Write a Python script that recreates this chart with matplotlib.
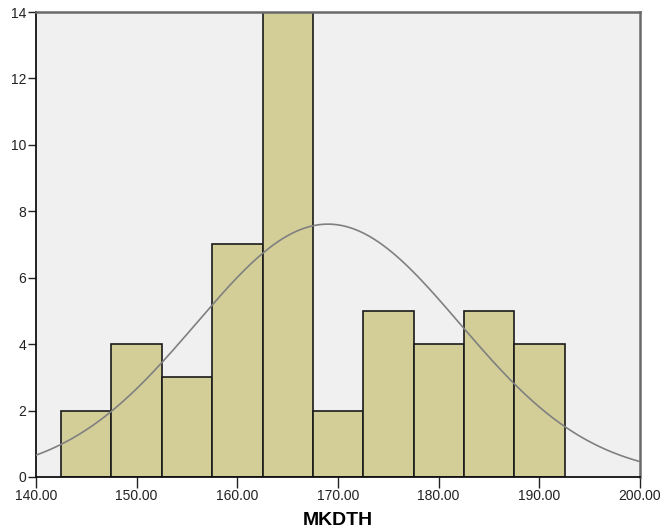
import numpy as np
import matplotlib.pyplot as plt

plt.rcParams['font.family'] = ['Liberation Sans', 'DejaVu Sans']

# histogram bins (width 5) and frequencies
bin_edges = [142.5, 147.5, 152.5, 157.5, 162.5, 167.5, 172.5, 177.5, 182.5, 187.5, 192.5]
counts = [2, 4, 3, 7, 14, 2, 5, 4, 5, 4]

# normal curve parameters
mean = 169.0
std_dev = 13.1
n_total = sum(counts)
bin_width = 5.0

x_ticks = [140, 150, 160, 170, 180, 190, 200]
x_labels = ['140.00', '150.00', '160.00', '170.00', '180.00', '190.00', '200.00']
y_ticks = [0, 2, 4, 6, 8, 10, 12, 14]

fig = plt.figure(figsize=(6.64, 5.31), dpi=100)
ax = fig.add_axes([0.0542, 0.1017, 0.9097, 0.8757])
ax.set_facecolor('#f0f0f0')

lefts = bin_edges[:-1]
widths = np.diff(bin_edges)
ax.bar(lefts, counts, width=widths, align='edge', color='#d3ce98',
       edgecolor='#1a1a1a', linewidth=1.2, zorder=2)

xs = np.linspace(140, 200, 400)
ys = n_total * bin_width / (std_dev * np.sqrt(2 * np.pi)) * np.exp(-0.5 * ((xs - mean) / std_dev) ** 2)
ax.plot(xs, ys, color='#808080', linewidth=1.2, zorder=3)

ax.set_xlim(140, 200)
ax.set_ylim(0, 14)
ax.set_xticks(x_ticks)
ax.set_xticklabels(x_labels)
ax.set_yticks(y_ticks)
ax.tick_params(axis='both', direction='out', length=6, width=1, labelsize=10, colors='#222222', pad=1)
ax.tick_params(axis='x', length=8)

for side in ['left', 'bottom']:
    ax.spines[side].set_color('#111111')
    ax.spines[side].set_linewidth(1.3)
for side in ['top', 'right']:
    ax.spines[side].set_color('#6a6a6a')
    ax.spines[side].set_linewidth(1.8)

ax.set_xlabel('MKDTH', fontsize=14, fontweight='bold', labelpad=6)

fig.savefig('out.png', dpi=100)
